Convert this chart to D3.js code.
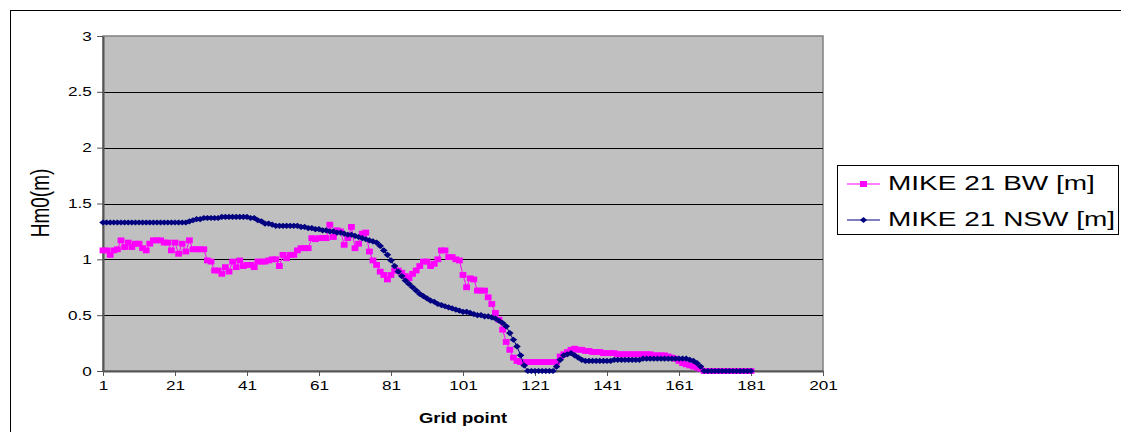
<!DOCTYPE html>
<html>
<head>
<meta charset="utf-8">
<script src="https://cdn.jsdelivr.net/npm/d3@7"></script>
<style>
  body { margin: 0; background: #fff; }
  svg { display: block; font-family: "Liberation Sans", Arial, sans-serif; }
</style>
</head>
<body>
<div id="chart"></div>
<script>
// grid points 1..181
var gridPoints = d3.range(1, 182);

// MIKE 21 BW [m]
var bwValues = [
  1.08, 1.08, 1.04, 1.08, 1.09, 1.17, 1.11, 1.15, 1.11, 1.14,
  1.14, 1.10, 1.08, 1.14, 1.17, 1.17, 1.17, 1.15, 1.15, 1.08,
  1.15, 1.05, 1.14, 1.07, 1.17, 1.09, 1.09, 1.09, 1.09, 0.99,
  0.98, 0.90, 0.90, 0.87, 0.93, 0.89, 0.98, 0.93, 0.99, 0.94,
  0.95, 0.95, 0.93, 0.98, 0.98, 0.98, 0.99, 1.00, 1.00, 0.94,
  1.04, 1.01, 1.04, 1.04, 1.08, 1.10, 1.10, 1.10, 1.19, 1.18,
  1.19, 1.19, 1.19, 1.31, 1.20, 1.26, 1.25, 1.13, 1.19, 1.29,
  1.10, 1.14, 1.23, 1.24, 1.07, 0.99, 0.95, 0.89, 0.86, 0.82,
  0.86, 0.90, 0.90, 0.88, 0.85, 0.83, 0.87, 0.90, 0.94, 0.98,
  0.98, 0.94, 0.96, 1.00, 1.08, 1.08, 1.02, 1.02, 1.00, 0.99,
  0.86, 0.75, 0.83, 0.82, 0.72, 0.72, 0.72, 0.66, 0.60, 0.52,
  0.46, 0.37, 0.26, 0.19, 0.12, 0.09, 0.08, 0.08, 0.08, 0.08,
  0.08, 0.08, 0.08, 0.08, 0.08, 0.08, 0.08, 0.13, 0.15, 0.17,
  0.19, 0.20, 0.19, 0.19, 0.18, 0.18, 0.17, 0.17, 0.17, 0.16,
  0.16, 0.16, 0.16, 0.15, 0.15, 0.15, 0.15, 0.15, 0.15, 0.15,
  0.15, 0.15, 0.15, 0.14, 0.14, 0.14, 0.14, 0.13, 0.12, 0.11,
  0.09, 0.07, 0.06, 0.05, 0.04, 0.03, 0.02, 0, 0, 0,
  0, 0, 0, 0, 0, 0, 0, 0, 0, 0,
  0
];

// MIKE 21 NSW [m]
var nswValues = [
  1.33, 1.33, 1.33, 1.33, 1.33, 1.33, 1.33, 1.33, 1.33, 1.33,
  1.33, 1.33, 1.33, 1.33, 1.33, 1.33, 1.33, 1.33, 1.33, 1.33,
  1.33, 1.33, 1.33, 1.33, 1.34, 1.35, 1.36, 1.36, 1.37, 1.37,
  1.37, 1.37, 1.37, 1.38, 1.38, 1.38, 1.38, 1.38, 1.38, 1.38,
  1.38, 1.37, 1.37, 1.35, 1.34, 1.32, 1.32, 1.31, 1.30, 1.30,
  1.30, 1.30, 1.30, 1.30, 1.30, 1.29, 1.29, 1.28, 1.28, 1.27,
  1.27, 1.26, 1.26, 1.25, 1.25, 1.24, 1.24, 1.23, 1.22, 1.22,
  1.21, 1.20, 1.19, 1.18, 1.17, 1.16, 1.15, 1.12, 1.08, 1.04,
  0.99, 0.94, 0.89, 0.85, 0.81, 0.78, 0.75, 0.72, 0.69, 0.67,
  0.65, 0.63, 0.62, 0.60, 0.59, 0.58, 0.57, 0.56, 0.55, 0.54,
  0.53, 0.53, 0.52, 0.51, 0.50, 0.50, 0.49, 0.49, 0.48, 0.47,
  0.45, 0.43, 0.40, 0.34, 0.28, 0.22, 0.14, 0.05, 0, 0,
  0, 0, 0, 0, 0, 0, 0.04, 0.10, 0.14, 0.15,
  0.16, 0.14, 0.12, 0.10, 0.09, 0.09, 0.09, 0.09, 0.09, 0.09,
  0.09, 0.09, 0.10, 0.10, 0.10, 0.10, 0.10, 0.10, 0.10, 0.10,
  0.11, 0.11, 0.11, 0.11, 0.11, 0.11, 0.11, 0.11, 0.11, 0.11,
  0.11, 0.11, 0.11, 0.10, 0.09, 0.07, 0.04, 0, 0, 0,
  0, 0, 0, 0, 0, 0, 0, 0, 0, 0,
  0
];

var xTicks = d3.range(1, 202, 20);
var yTicks = [0, 0.5, 1, 1.5, 2, 2.5, 3];
var seriesNames = ["MIKE 21 BW [m]", "MIKE 21 NSW [m]"];
var seriesColors = ["#ff00ff", "#000080"];

var width = 1121,
  height = 432,
  plotLeft = 103,
  plotRight = 823,
  plotTop = 36,
  plotBottom = 371,
  // the picture is stretched sideways, so is the text
  stretch = 1.32;

var svg = d3
  .select("#chart")
  .append("svg")
  .attr("width", width)
  .attr("height", height);

var x = d3.scaleLinear().domain([1, 201]).range([plotLeft, plotRight]);
var y = d3.scaleLinear().domain([0, 3]).range([plotBottom, plotTop]);

// outer chart border (only left and top are in view)
svg
  .append("rect")
  .attr("x", 10.5)
  .attr("y", 10.5)
  .attr("width", 1130)
  .attr("height", 440)
  .attr("fill", "#fff")
  .attr("stroke", "#000");

// plot area
svg
  .append("rect")
  .attr("x", plotLeft)
  .attr("y", plotTop)
  .attr("width", plotRight - plotLeft)
  .attr("height", plotBottom - plotTop)
  .attr("fill", "#c0c0c0")
  .attr("stroke", "#808080")
  .attr("stroke-width", 1.5);

// gridlines
svg
  .append("g")
  .selectAll("line")
  .data(yTicks.filter((d) => d > 0 && d < 3))
  .enter()
  .append("line")
  .attr("x1", plotLeft)
  .attr("x2", plotRight)
  .attr("y1", (d) => Math.round(y(d)) + 0.5)
  .attr("y2", (d) => Math.round(y(d)) + 0.5)
  .attr("stroke", "#000");

// axes
var xAxis = svg
  .append("g")
  .attr("transform", "translate(0," + plotBottom + ")")
  .call(d3.axisBottom(x).tickValues(xTicks).tickSize(5).tickSizeOuter(0).tickFormat(d3.format("d")));

var yAxis = svg
  .append("g")
  .attr("transform", "translate(" + plotLeft + ",0)")
  .call(d3.axisLeft(y).tickValues(yTicks).tickSize(6).tickSizeOuter(0).tickFormat((d) => String(d)));

[xAxis, yAxis].forEach((a) => {
  a.select(".domain").attr("stroke", "#555").attr("stroke-width", 2);
  a.selectAll(".tick line").attr("stroke", "#555");
  a.selectAll(".tick text")
    .attr("font-family", "Liberation Sans, Arial, sans-serif")
    .attr("font-size", 13)
    .attr("fill", "#000");
});
xAxis.selectAll(".tick text").attr("y", 10).attr("transform", "scale(" + stretch + ",1)");
yAxis.selectAll(".tick text").attr("x", -8.5).attr("transform", "scale(" + stretch + ",1)");

// series
function drawSeries(values, color, shape) {
  var pts = gridPoints.map((g, i) => [x(g), y(values[i])]);
  svg
    .append("path")
    .attr("d", d3.line()(pts))
    .attr("fill", "none")
    .attr("stroke", color)
    .attr("stroke-width", 1);
  var g = svg.append("g").attr("fill", color);
  if (shape === "square") {
    g.selectAll("rect")
      .data(pts)
      .enter()
      .append("rect")
      .attr("x", (d) => d[0] - 3.4)
      .attr("y", (d) => d[1] - 2.9)
      .attr("width", 6.8)
      .attr("height", 5.8);
  } else {
    g.selectAll("path")
      .data(pts)
      .enter()
      .append("path")
      .attr("d", (d) => "M" + (d[0] - 3.8) + "," + d[1] + "L" + d[0] + "," + (d[1] - 3.1) + "L" + (d[0] + 3.8) + "," + d[1] + "L" + d[0] + "," + (d[1] + 3.1) + "Z");
  }
}

drawSeries(bwValues, seriesColors[0], "square");
drawSeries(nswValues, seriesColors[1], "diamond");

// axis titles
svg
  .append("text")
  .attr("transform", "translate(49,203) scale(" + stretch + ",1) rotate(-90)")
  .attr("text-anchor", "middle")
  .attr("font-size", 19)
  .text("Hm0(m)");

svg
  .append("text")
  .attr("transform", "translate(463,423) scale(" + stretch + ",1)")
  .attr("text-anchor", "middle")
  .attr("font-size", 14)
  .attr("font-weight", "bold")
  .text("Grid point");

// legend
var legend = svg.append("g");
legend
  .append("rect")
  .attr("x", 837.5)
  .attr("y", 165.5)
  .attr("width", 281)
  .attr("height", 69)
  .attr("fill", "#fff")
  .attr("stroke", "#000");

seriesNames.forEach((name, i) => {
  var ly = 184 + i * 36;
  legend
    .append("line")
    .attr("x1", 847)
    .attr("x2", 880)
    .attr("y1", ly)
    .attr("y2", ly)
    .attr("stroke", seriesColors[i]);
  if (i === 0) {
    legend.append("rect").attr("x", 860).attr("y", ly - 3).attr("width", 7).attr("height", 6).attr("fill", seriesColors[i]);
  } else {
    legend
      .append("path")
      .attr("d", "M860," + ly + "L863.5," + (ly - 3) + "L867," + ly + "L863.5," + (ly + 3) + "Z")
      .attr("fill", seriesColors[i]);
  }
  legend
    .append("text")
    .attr("transform", "translate(888," + (ly + 6) + ") scale(1.4,1)")
    .attr("font-size", 20)
    .text(name);
});
</script>
</body>
</html>
